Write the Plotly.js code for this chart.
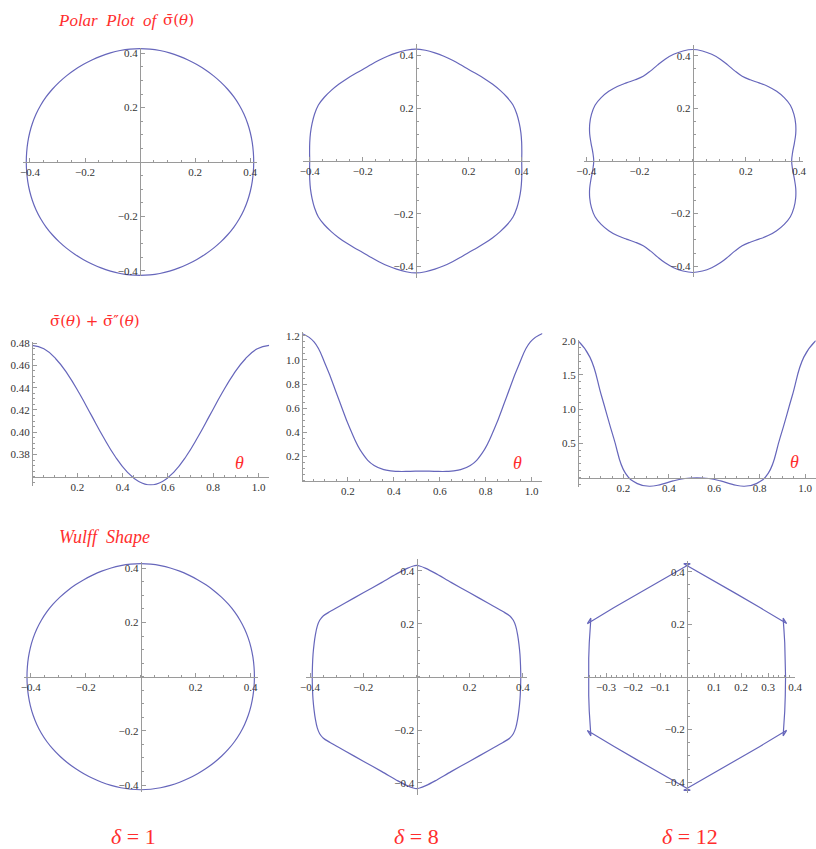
<!DOCTYPE html>
<html><head><meta charset="utf-8">
<script src="https://cdn.plot.ly/plotly-3.0.1.min.js"></script>
<style>html,body{margin:0;padding:0;background:#fff;}#chart{width:816px;height:849px;}</style>
</head><body><div id="chart"></div>
<script>
// ---------------- DATA ----------------
// polar angle grid (degrees)
const angleDeg = [0,5,10,15,20,25,30,35,40,45,50,55,60,65,70,75,80,85,90,95,100,105,110,115,120,125,130,135,140,145,150,155,160,165,170,175,180,185,190,195,200,205,210,215,220,225,230,235,240,245,250,255,260,265,270,275,280,285,290,295,300,305,310,315,320,325,330,335,340,345,350,355,360];
// sigma-bar(theta), delta = 1
const sigmaD1 = [0.4135,0.4137,0.4144,0.4153,0.4162,0.4169,0.4171,0.4169,0.4162,0.4153,0.4144,0.4137,
 0.4135,0.4137,0.4144,0.4153,0.4162,0.4169,0.4171,0.4169,0.4162,0.4153,0.4144,0.4137,
 0.4135,0.4137,0.4144,0.4153,0.4162,0.4169,0.4171,0.4169,0.4162,0.4153,0.4144,0.4137,
 0.4135,0.4137,0.4144,0.4153,0.4162,0.4169,0.4171,0.4169,0.4162,0.4153,0.4144,0.4137,
 0.4135,0.4137,0.4144,0.4153,0.4162,0.4169,0.4171,0.4169,0.4162,0.4153,0.4144,0.4137,
 0.4135,0.4137,0.4144,0.4153,0.4162,0.4169,0.4171,0.4169,0.4162,0.4153,0.4144,0.4137,0.4135];
// sigma-bar(theta), delta = 8
const sigmaD8 = [0.400,0.402,0.406,0.411,0.416,0.421,0.424,0.421,0.416,0.411,0.406,0.402,
 0.400,0.402,0.406,0.411,0.416,0.421,0.424,0.421,0.416,0.411,0.406,0.402,
 0.400,0.402,0.406,0.411,0.416,0.421,0.424,0.421,0.416,0.411,0.406,0.402,
 0.400,0.402,0.406,0.411,0.416,0.421,0.424,0.421,0.416,0.411,0.406,0.402,
 0.400,0.402,0.406,0.411,0.416,0.421,0.424,0.421,0.416,0.411,0.406,0.402,
 0.400,0.402,0.406,0.411,0.416,0.421,0.424,0.421,0.416,0.411,0.406,0.402,0.400];
// sigma-bar(theta), delta = 12
const sigmaD12 = [0.372,0.377,0.388,0.401,0.412,0.420,0.424,0.420,0.412,0.401,0.388,0.377,
 0.372,0.377,0.388,0.401,0.412,0.420,0.424,0.420,0.412,0.401,0.388,0.377,
 0.372,0.377,0.388,0.401,0.412,0.420,0.424,0.420,0.412,0.401,0.388,0.377,
 0.372,0.377,0.388,0.401,0.412,0.420,0.424,0.420,0.412,0.401,0.388,0.377,
 0.372,0.377,0.388,0.401,0.412,0.420,0.424,0.420,0.412,0.401,0.388,0.377,
 0.372,0.377,0.388,0.401,0.412,0.420,0.424,0.420,0.412,0.401,0.388,0.377,0.372];

// sigma + sigma'' on [0, pi/3]
const theta2 = [0,0.0524,0.1047,0.1571,0.2094,0.2618,0.3142,0.3665,0.4189,0.4712,0.5236,0.5760,0.6283,0.6807,0.7330,0.7854,0.8378,0.8901,0.9425,0.9948,1.0472];
const stiffD1 = [0.478,0.4749,0.4660,0.4522,0.4347,0.4153,0.3959,0.3784,0.3646,0.3557,0.3526,0.3557,0.3646,0.3784,0.3959,0.4153,0.4347,0.4522,0.4660,0.4749,0.478];
const stiffD8 = [1.22,1.15,0.95,0.69,0.43,0.23,0.125,0.088,0.077,0.078,0.08,0.078,0.077,0.088,0.125,0.23,0.43,0.69,0.95,1.15,1.22];
const stiffD12 = [2.0,1.76,1.18,0.58,0.06,-0.09,-0.13,-0.10,-0.05,-0.015,-0.005,-0.015,-0.05,-0.10,-0.13,-0.09,0.06,0.58,1.18,1.76,2.0];

// Wulff shapes
const wulffD1R = sigmaD1; // near-isotropic: same circle
const wulffD8x = [0.392,0.391,0.389,0.385,0.380,0.373,0.364,0.350,0.325,0.270,0.200,0.130,0.070,0.035,0.012,0,
 -0.012,-0.035,-0.070,-0.130,-0.200,-0.270,-0.325,-0.350,-0.364,-0.373,-0.380,-0.385,-0.389,-0.391,-0.392,
 -0.391,-0.389,-0.385,-0.380,-0.373,-0.364,-0.350,-0.325,-0.270,-0.200,-0.130,-0.070,-0.035,-0.012,0,
 0.012,0.035,0.070,0.130,0.200,0.270,0.325,0.350,0.364,0.373,0.380,0.385,0.389,0.391,0.392];
const wulffD8y = [0,0.045,0.085,0.125,0.160,0.192,0.214,0.231,0.247,0.278,0.318,0.357,0.392,0.410,0.419,0.421,
 0.419,0.410,0.392,0.357,0.318,0.278,0.247,0.231,0.214,0.192,0.160,0.125,0.085,0.045,0,
 -0.045,-0.085,-0.125,-0.160,-0.192,-0.214,-0.231,-0.247,-0.278,-0.318,-0.357,-0.392,-0.410,-0.419,-0.421,
 -0.419,-0.410,-0.392,-0.357,-0.318,-0.278,-0.247,-0.231,-0.214,-0.192,-0.160,-0.125,-0.085,-0.045,0];
const wulffD12x = [0.365,0.364,0.362,0.359,0.357,0.356,0.369,0.357,0.27,0.18,0.09,0,-0.012,0.012,0,
 -0.09,-0.18,-0.27,-0.357,-0.369,-0.356,-0.357,-0.359,-0.362,-0.364,-0.365,
 -0.364,-0.362,-0.359,-0.357,-0.356,-0.369,-0.357,-0.27,-0.18,-0.09,0,0.012,-0.012,0,
 0.09,0.18,0.27,0.357,0.369,0.356,0.357,0.359,0.362,0.364,0.365];
const wulffD12y = [0,0.07,0.13,0.18,0.21,0.224,0.203,0.21,0.264,0.318,0.371,0.424,0.431,0.431,0.424,
 0.371,0.318,0.264,0.21,0.203,0.224,0.21,0.18,0.13,0.07,0,
 -0.07,-0.13,-0.18,-0.21,-0.224,-0.203,-0.21,-0.264,-0.318,-0.371,-0.424,-0.431,-0.431,-0.424,
 -0.371,-0.318,-0.264,-0.21,-0.203,-0.224,-0.21,-0.18,-0.13,-0.07,0];

// tick values
const ticksPolar = [-0.4,-0.2,0.2,0.4];
const ticksWulff12x = [-0.3,-0.2,-0.1,0.1,0.2,0.3,0.4];
const ticksTheta = [0.2,0.4,0.6,0.8,1.0];
const ticksStiff1 = [0.38,0.40,0.42,0.44,0.46,0.48];
const ticksStiff8 = [0.2,0.4,0.6,0.8,1.0,1.2];
const ticksStiff12 = [0.5,1.0,1.5,2.0];

// ---------------- STYLE / LAYOUT ----------------
const W = 816, H = 849;
const AX = '#9a9a9a';
const LINE = '#6666bb';
const RED = 'rgb(255,45,45)';
const SERIF = 'Liberation Serif, Times New Roman, serif';
const MATH = 'DejaVu Serif, serif';

function polarXY(deg, r) {
  return {x: r.map((v,i)=>v*Math.cos(deg[i]*Math.PI/180)), y: r.map((v,i)=>v*Math.sin(deg[i]*Math.PI/180))};
}
const p1 = polarXY(angleDeg, sigmaD1), p8 = polarXY(angleDeg, sigmaD8), p12 = polarXY(angleDeg, sigmaD12);
const w1 = polarXY(angleDeg, wulffD1R);

const panels = [
  {ox:140,  oy:162,   sx:275,   sy:272,  xr:[-0.425,0.425], yr:[-0.42,0.42],   cy:0,    xt:ticksPolar, yt:ticksPolar, xd:1, yd:1, xm:0.05, ym:0.05, tr:{x:p1.x,y:p1.y,shape:'spline',sm:1}},
  {ox:415.7,oy:161,   sx:265,   sy:264,  xr:[-0.425,0.43],  yr:[-0.445,0.445], cy:0,    xt:ticksPolar, yt:ticksPolar, xd:1, yd:1, xm:0.05, ym:0.05, tr:{x:p8.x,y:p8.y,shape:'spline',sm:1}},
  {ox:692.7,oy:161,   sx:266,   sy:263,  xr:[-0.41,0.415],  yr:[-0.44,0.44],   cy:0,    xt:ticksPolar, yt:ticksPolar, xd:1, yd:1, xm:0.05, ym:0.05, tr:{x:p12.x,y:p12.y,shape:'spline',sm:1}},
  {ox:32,   oy:476.7, sx:226.5, sy:1113, xr:[0,1.0472],     yr:[0.352,0.481],   cy:0.36, xt:ticksTheta, yt:ticksStiff1, xd:1, yd:2, xm:0.05, ym:0.005, tr:{x:theta2,y:stiffD1,shape:'spline',sm:1.3}},
  {ox:302,  oy:480.7, sx:229.6, sy:120.7,xr:[0,1.0472],     yr:[-0.01,1.23],    cy:0,    xt:ticksTheta, yt:ticksStiff8, xd:1, yd:1, xm:0.05, ym:0.05, tr:{x:theta2,y:stiffD8,shape:'spline',sm:1.3}},
  {ox:578,  oy:477.5, sx:227,   sy:68.4, xr:[0,1.0472],     yr:[-0.135,2.01],   cy:0,    xt:ticksTheta, yt:ticksStiff12, xd:1, yd:1, xm:0.05, ym:0.1, tr:{x:theta2,y:stiffD12,shape:'spline',sm:1.3}},
  {ox:140.7,oy:676.7, sx:275,   sy:271,  xr:[-0.425,0.425], yr:[-0.425,0.425], cy:0,    xt:ticksPolar, yt:ticksPolar, xd:1, yd:1, xm:0.05, ym:0.05, tr:{x:w1.x,y:w1.y,shape:'spline',sm:1}},
  {ox:416.5,oy:677,   sx:266,   sy:265,  xr:[-0.415,0.415], yr:[-0.445,0.445], cy:0,    xt:ticksPolar, yt:ticksPolar, xd:1, yd:1, xm:0.05, ym:0.05, tr:{x:wulffD8x,y:wulffD8y,shape:'spline',sm:0.8}},
  {ox:687,  oy:677,   sx:270,   sy:263,  xr:[-0.38,0.40],   yr:[-0.44,0.44],   cy:0,    xt:ticksWulff12x, yt:ticksPolar, xd:1, yd:1, xm:0.02, ym:0.05, tr:{x:wulffD12x,y:wulffD12y,shape:'linear',sm:0}}
];

function fmt(v, d) { return (v < 0 ? '\u2212' : '') + Math.abs(v).toFixed(d); }

const data = [];
const layout = {
  width: W, height: H, margin: {l:0, r:0, t:0, b:0},
  paper_bgcolor: '#fff', plot_bgcolor: 'rgba(0,0,0,0)',
  showlegend: false, hovermode: false, annotations: []
};

panels.forEach((p, i) => {
  const n = i + 1;
  const xk = n === 1 ? 'xaxis' : 'xaxis' + n;
  const yk = n === 1 ? 'yaxis' : 'yaxis' + n;
  const x0 = p.ox + p.xr[0] * p.sx, x1 = p.ox + p.xr[1] * p.sx;
  const yTop = p.oy - (p.yr[1] - p.cy) * p.sy, yBot = p.oy - (p.yr[0] - p.cy) * p.sy;
  const common = {
    showline: true, linecolor: AX, linewidth: 1, zeroline: false, showgrid: false,
    ticks: 'inside', ticklen: 4, tickcolor: AX, tickwidth: 1, tickmode: 'array',
    tickfont: {family: SERIF, size: 11, color: '#333'}, anchor: 'free'
  };
  layout[xk] = Object.assign({}, common, {
    domain: [x0 / W, x1 / W], range: p.xr, position: 1 - p.oy / H, side: 'bottom',
    tickvals: p.xt, ticktext: p.xt.map(v => fmt(v, p.xd)),
    minor: {tickmode: 'linear', tick0: 0, dtick: p.xm, ticks: 'inside', ticklen: 2, tickcolor: AX}
  });
  layout[yk] = Object.assign({}, common, {
    domain: [1 - yBot / H, 1 - yTop / H], range: p.yr, position: p.ox / W, side: 'left',
    tickvals: p.yt, ticktext: p.yt.map(v => fmt(v, p.yd)),
    minor: {tickmode: 'linear', tick0: 0, dtick: p.ym, ticks: 'inside', ticklen: 2, tickcolor: AX}
  });
  data.push({
    type: 'scatter', mode: 'lines', x: p.tr.x, y: p.tr.y,
    xaxis: 'x' + (n === 1 ? '' : n), yaxis: 'y' + (n === 1 ? '' : n),
    line: {color: LINE, width: 1.2, shape: p.tr.shape, smoothing: p.tr.sm}
  });
});

function ann(text, x, y, size, family) {
  layout.annotations.push({
    text: text, xref: 'paper', yref: 'paper', x: x / W, y: 1 - y / H,
    xanchor: 'center', yanchor: 'middle', showarrow: false,
    font: {family: family || SERIF, size: size, color: RED}
  });
}
ann('<i>Polar  Plot  of</i>', 108, 21, 17);
ann('\u03C3\u0304(<i>\u03B8</i>)', 178, 20, 15, MATH);
ann('\u03C3\u0304(<i>\u03B8</i>) + \u03C3\u0304\u2033(<i>\u03B8</i>)', 95, 321, 15, MATH);
ann('<i>Wulff  Shape</i>', 105, 537, 18);
ann('<i>\u03B8</i>', 239, 463, 18);
ann('<i>\u03B8</i>', 517, 463, 18);
ann('<i>\u03B8</i>', 794, 462, 18);
ann('<i>\u03B4</i> = 1', 133, 836, 22);
ann('<i>\u03B4</i> = 8', 417, 836, 22);
ann('<i>\u03B4</i> = 12', 690, 836, 22);

Plotly.newPlot('chart', data, layout, {staticPlot: true, displayModeBar: false});
</script>
</body></html>
